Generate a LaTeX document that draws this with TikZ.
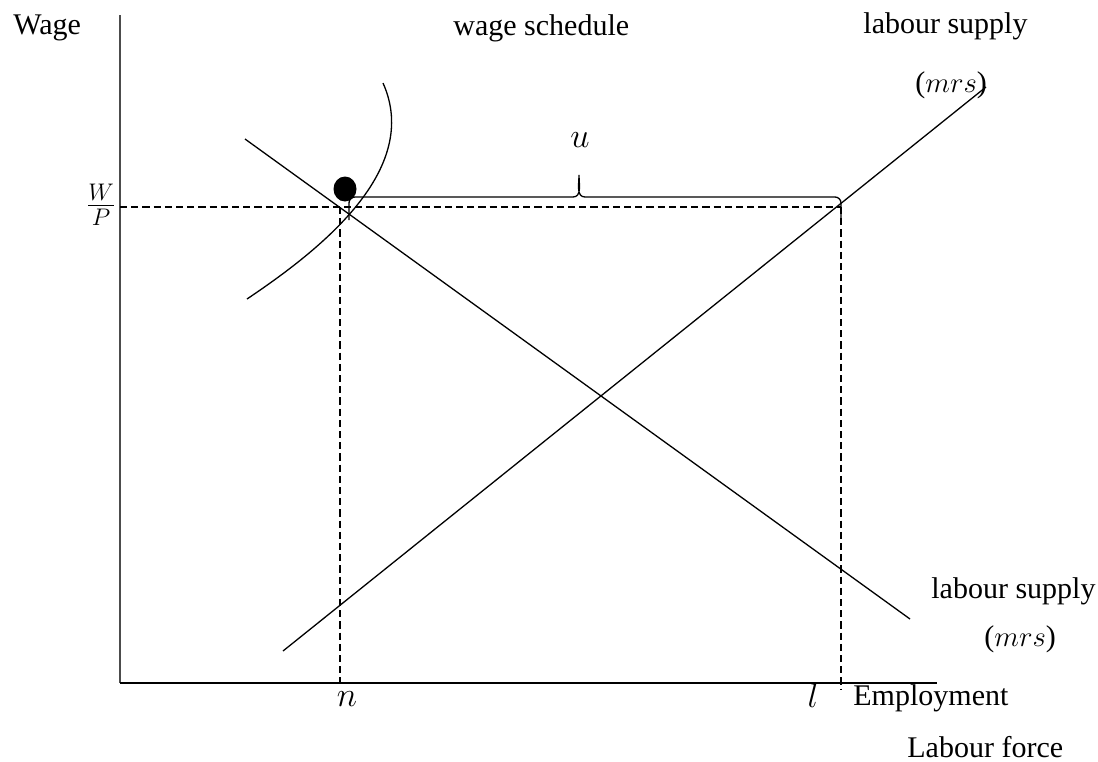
\documentclass[tikz,border=0pt]{standalone}
\usepackage{fontspec}
\setmainfont{Liberation Serif}
\begin{document}
\begin{tikzpicture}[x=0.5pt, y=-0.5pt,
    every node/.style={font=\fontsize{15}{18}\selectfont, inner sep=0pt},
    mathlbl/.style={font=\fontsize{18}{20}\selectfont},
    curve/.style={line width=0.65pt},
    guide/.style={line width=0.8pt, dash pattern=on 3.6pt off 2pt}]

    \useasboundingbox (0,0) rectangle (1098,761);

    % Axes
    \draw[line width=1pt, black!70] (120,15) -- (120,683);
    \draw[line width=0.8pt] (120,683) -- (937,683);

    % Axis labels
    \node[anchor=base west] (wage) at (13,34) {Wage};
    \node[anchor=base west] (empl) at (853,705) {Employment};
    \node[anchor=base west] (lforce) at (907,757) {Labour force};

    % Labour demand (downward sloping)
    \draw[curve] (245,139) -- (910,619);

    % Labour supply (upward sloping)
    \draw[curve] (283,651) -- (986,87);

    % Wage schedule
    \draw[curve] (247,299) .. controls (320,250) and (422,170) .. (383,83);

    % Curve labels
    \node[anchor=base west] (ws) at (453,35) {wage schedule};
    \node[anchor=base west] (lsup) at (863,33) {labour supply};
    \node[anchor=base west] (mrsup) at (915,92) {($mrs$)};
    \node[anchor=base west] (lsdn) at (931,598) {labour supply};
    \node[anchor=base west] (mrsdn) at (984,646) {($mrs$)};

    % Guides to the axes
    \draw[guide] (120,207) -- (841,207);
    \draw[guide] (340,207) -- (340,683);
    \draw[guide] (841,207) -- (841,689);

    % Equilibrium point
    \fill (345,189) ellipse [x radius=11.5, y radius=12.5];

    % Unemployment brace
    \draw[curve] (349,220) -- (349,203) to[out=90,in=180] (355,197) -- (573,197)
        to[out=0,in=-90] (579,175) to[out=-90,in=180] (585,197) -- (835,197)
        to[out=0,in=90] (841,203) -- (841,220);
    \node[mathlbl, anchor=base] (u) at (580,147) {$u$};

    % Ticks
    \node[mathlbl] (wp) at (101,205) {$\frac{W}{P}$};
    \node[mathlbl, anchor=base] (n) at (347,706) {$n$};
    \node[mathlbl, anchor=base] (l) at (813,707) {$l$};

\end{tikzpicture}
\end{document}
